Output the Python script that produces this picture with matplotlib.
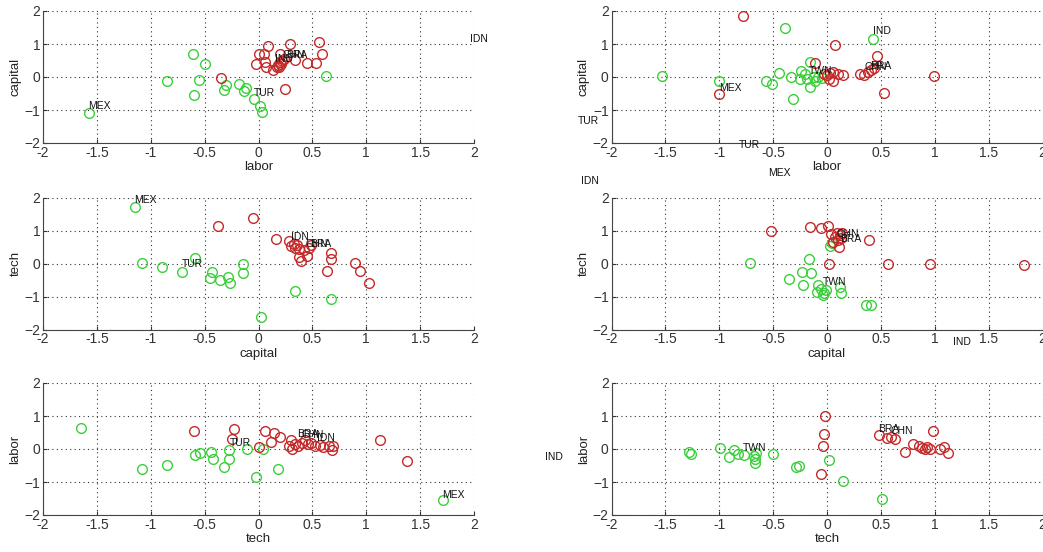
import matplotlib
matplotlib.use("Agg")
import matplotlib.pyplot as plt

# ===== データ (各パネル: 緑/赤の点とラベル) =====
# 上段: labor vs capital
tl_green_x = [-1.57, -0.61, -0.50, -0.85, -0.55, -0.60, -0.30, -0.32, -0.18, -0.12, -0.13, -0.04, 0.01, 0.03, 0.63]
tl_green_y = [-1.10, 0.69, 0.39, -0.12, -0.09, -0.56, -0.24, -0.39, -0.21, -0.34, -0.41, -0.67, -0.87, -1.06, 0.04]
tl_red_x = [-0.35, -0.02, 0.00, 0.05, 0.085, 0.06, 0.07, 0.13, 0.29, 0.56, 0.59, 0.34, 0.45, 0.53, 0.25,
            0.18, 0.20, 0.22, 0.19, 0.24, 0.21, 0.17, 0.20]
tl_red_y = [-0.02, 0.39, 0.70, 0.70, 0.94, 0.46, 0.31, 0.21, 1.00, 1.07, 0.69, 0.52, 0.41, 0.41, -0.36,
            0.36, 0.45, 0.50, 0.30, 0.56, 0.40, 0.30, 0.71]
tl_labels = [("MEX", -1.58, -0.89), ("TUR", -0.04, -0.47), ("IND", 0.15, 0.56),
             ("CHN", 0.22, 0.66), ("BRA", 0.26, 0.66), ("IDN", 1.96, 1.15)]

tr_green_x = [-1.53, -1.00, -0.39, 0.43, -0.45, -0.57, -0.51, -0.32, -0.33, -0.24, -0.16, -0.16,
              -0.25, -0.19, -0.12, -0.08, -0.05, -0.11, -0.20]
tr_green_y = [0.03, -0.11, 1.50, 1.16, 0.13, -0.12, -0.22, -0.67, 0.01, 0.19, 0.45, -0.31,
              -0.06, -0.06, -0.01, 0.01, -0.04, -0.12, 0.10]
tr_red_x = [-0.78, 0.075, 0.99, 0.53, 0.46, -1.00, 0.06, 0.15, 0.31, 0.34, 0.38, 0.41, 0.44,
            -0.11, -0.03, 0.00, 0.03, 0.06, 0.02, 0.10]
tr_red_y = [1.84, 0.98, 0.03, -0.49, 0.63, -0.52, -0.12, 0.06, 0.08, 0.05, 0.15, 0.20, 0.28,
            0.41, 0.10, 0.05, 0.12, 0.15, -0.05, 0.08]
tr_labels = [("IND", 0.43, 1.40), ("TWN", -0.17, 0.17), ("CHN", 0.35, 0.30), ("BRA", 0.40, 0.33),
             ("MEX", -1.00, -0.34), ("TUR", -2.31, -1.32), ("TUR", -0.82, -2.07),
             ("MEX", -0.55, -2.90), ("IDN", -2.28, -3.14)]

# 中段: capital vs tech
ml_green_x = [-1.15, -1.08, -0.90, -0.71, -0.59, -0.43, -0.45, -0.36, -0.28, -0.26, -0.14, -0.14, 0.34, 0.67, 0.02]
ml_green_y = [1.70, 0.03, -0.10, -0.25, 0.18, -0.25, -0.43, -0.51, -0.41, -0.58, -0.02, -0.30, -0.84, -1.07, -1.63]
ml_red_x = [-0.38, -0.05, 0.16, 0.28, 0.30, 0.34, 0.38, 0.42, 0.47, 0.49, 0.38, 0.39, 0.45, 0.67, 0.67,
            0.64, 0.90, 0.94, 1.03, 0.33, 0.36]
ml_red_y = [1.14, 1.39, 0.73, 0.68, 0.52, 0.48, 0.44, 0.40, 0.48, 0.55, 0.20, 0.07, 0.23, 0.33, 0.13,
            -0.22, 0.01, -0.23, -0.59, 0.58, 0.55]
ml_labels = [("MEX", -1.15, 1.93), ("TUR", -0.71, -0.03), ("IDN", 0.30, 0.79),
             ("CHN", 0.44, 0.59), ("BRA", 0.48, 0.59)]

mr_green_x = [-0.71, -0.17, -0.23, -0.15, -0.35, -0.22, -0.08, -0.06, -0.09, -0.03, -0.01, -0.04,
              0.12, 0.13, 0.36, 0.41, 0.03, 0.05]
mr_green_y = [0.03, 0.15, -0.25, -0.28, -0.48, -0.64, -0.66, -0.76, -0.86, -0.88, -0.80, -0.96,
              -0.71, -0.88, -1.25, -1.25, 0.54, 0.62]
mr_red_x = [-0.52, -0.16, -0.06, 0.01, 0.04, 0.07, 0.09, 0.12, 0.10, 0.13, 0.14, 0.11, 0.39, 0.02,
            0.57, 0.96, 1.83, 0.06]
mr_red_y = [0.99, 1.10, 1.07, 1.15, 0.90, 0.80, 0.93, 0.85, 0.72, 0.78, 0.92, 0.51, 0.72, -0.02,
            -0.02, -0.02, -0.05, 0.64]
mr_labels = [("CHN", 0.09, 0.90), ("BRA", 0.12, 0.73), ("TWN", -0.04, -0.55),
             ("IND", 1.17, -2.39)]

# 下段: tech vs labor
bl_green_x = [-1.65, -1.08, -0.85, -0.59, -0.54, -0.44, -0.42, -0.32, -0.27, -0.27, -0.11, -0.02, 0.04, 0.18, 1.71]
bl_green_y = [0.63, -0.60, -0.48, -0.18, -0.11, -0.10, -0.30, -0.55, -0.31, -0.03, 0.01, -0.84, 0.01, -0.60, -1.54]
bl_red_x = [-0.60, -0.23, -0.25, 0.00, 0.06, 0.14, 0.12, 0.20, 0.28, 0.31, 0.34, 0.37, 0.40, 0.43, 0.46,
            0.49, 0.52, 0.57, 0.60, 0.65, 0.68, 0.69, 1.13, 1.38, 0.30]
bl_red_y = [0.55, 0.60, 0.30, 0.06, 0.55, 0.47, 0.22, 0.35, 0.09, -0.01, 0.16, 0.08, 0.18, 0.26, 0.16,
            0.19, 0.09, 0.12, 0.05, 0.08, -0.03, 0.09, 0.26, -0.35, 0.26]
bl_labels = [("TUR", -0.27, 0.18), ("BRA", 0.36, 0.45), ("CHN", 0.40, 0.42),
             ("IDN", 0.54, 0.32), ("MEX", 1.70, -1.39)]

br_green_x = [-1.28, -1.26, -0.99, -0.91, -0.86, -0.83, -0.77, -0.68, -0.67, -0.67, -0.66, -0.50,
              -0.29, -0.26, 0.02, 0.15, 0.51]
br_green_y = [-0.09, -0.15, 0.02, -0.24, -0.04, -0.14, -0.17, -0.20, -0.30, -0.42, -0.12, -0.14,
              -0.55, -0.50, -0.32, -0.97, -1.51]
br_red_x = [-0.02, -0.03, -0.04, -0.06, 0.48, 0.56, 0.59, 0.63, 0.98, 0.72, 0.80, 0.85, 0.88, 0.91,
            0.93, 0.96, 1.05, 1.09, 1.12]
br_red_y = [1.01, 0.46, 0.09, -0.75, 0.41, 0.33, 0.36, 0.30, 0.56, -0.10, 0.16, 0.09, 0.04, -0.01,
            0.07, 0.01, 0.01, 0.07, -0.11]
br_labels = [("TWN", -0.78, 0.04), ("BRA", 0.47, 0.62), ("CHN", 0.59, 0.54), ("IND", -2.62, -0.24)]

row_xlabels = ["labor", "capital", "tech"]
row_ylabels = ["capital", "tech", "labor"]
x_ticks = [-2, -1.5, -1, -0.5, 0, 0.5, 1, 1.5, 2]
x_ticklabels = ["-2", "-1.5", "-1", "-0.5", "0", "0.5", "1", "1.5", "2"]
y_ticks = [-2, -1, 0, 1, 2]

GREEN = "#3ccf3c"
RED = "#c42a2a"

panels = [
    (tl_green_x, tl_green_y, tl_red_x, tl_red_y, tl_labels),
    (tr_green_x, tr_green_y, tr_red_x, tr_red_y, tr_labels),
    (ml_green_x, ml_green_y, ml_red_x, ml_red_y, ml_labels),
    (mr_green_x, mr_green_y, mr_red_x, mr_red_y, mr_labels),
    (bl_green_x, bl_green_y, bl_red_x, bl_red_y, bl_labels),
    (br_green_x, br_green_y, br_red_x, br_red_y, br_labels),
]

plt.rcParams["font.family"] = ["Liberation Sans", "DejaVu Sans"]

fig = plt.figure(figsize=(10.43, 5.52), dpi=100)
fig.patch.set_facecolor("white")

W = 431 / 1043
H = 132 / 552
lefts = [43 / 1043, 611.5 / 1043]
bottoms = [1 - 143 / 552, 1 - 329.5 / 552, 1 - 515 / 552]

for idx, (gx, gy, rx, ry, labels) in enumerate(panels):
    row, col = divmod(idx, 2)
    ax = fig.add_axes([lefts[col], bottoms[row], W, H])
    ax.plot(gx, gy, "o", mfc="none", mec=GREEN, ms=7, mew=1.0)
    ax.plot(rx, ry, "o", mfc="none", mec=RED, ms=7, mew=1.0)
    for name, lx, ly in labels:
        ax.text(lx, ly, name, fontsize=7.5, ha="left", va="center", color="#111111", clip_on=False)

    ax.set_xlim(-2, 2)
    ax.set_ylim(-2, 2)
    ax.set_xticks(x_ticks)
    ax.set_xticklabels(x_ticklabels)
    ax.set_yticks(y_ticks)
    ax.grid(True, linestyle=(0, (1, 3)), color="#333333", linewidth=0.8)
    ax.spines["top"].set_visible(False)
    ax.spines["right"].set_visible(False)
    ax.spines["left"].set_color("#444444")
    ax.spines["bottom"].set_color("#444444")
    ax.tick_params(direction="in", length=3, labelsize=10, colors="#333333", pad=2)
    ax.set_xlabel(row_xlabels[row], fontsize=9.5, color="#222222", labelpad=1)
    ax.set_ylabel(row_ylabels[row], fontsize=9.5, color="#222222", labelpad=2)

plt.savefig("out.png", dpi=100)
plt.close()
